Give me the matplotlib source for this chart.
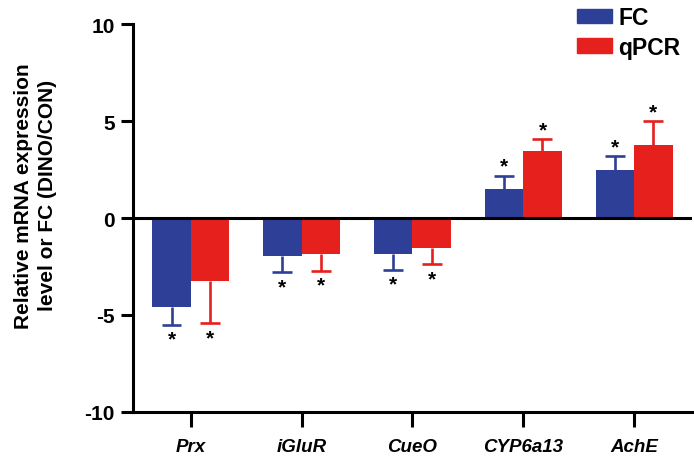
import numpy as np
import matplotlib.pyplot as plt
from matplotlib.patches import Patch

plt.rcParams['font.family'] = ['Liberation Sans', 'DejaVu Sans']
plt.rcParams['font.weight'] = 'bold'
plt.rcParams['axes.unicode_minus'] = False

# dati
geni = ['Prx', 'iGluR', 'CueO', 'CYP6a13', 'AchE']
fc = [-4.6, -1.96, -1.86, 1.49, 2.47]
fc_err = [0.9, 0.84, 0.82, 0.69, 0.71]
qpcr = [-3.23, -1.86, -1.56, 3.45, 3.78]
qpcr_err = [2.2, 0.86, 0.83, 0.62, 1.2]

blu = '#2e3f98'
rosso = '#e5201d'

fig = plt.figure(figsize=(6.94, 4.64), dpi=100)
ax = fig.add_axes([0.1916, 0.11, 0.8054, 0.836])

x = np.arange(len(geni))
w = 0.345
cap = 0.09

for serie, err, col, dx in [(fc, fc_err, blu, -w / 2), (qpcr, qpcr_err, rosso, w / 2)]:
    serie = np.array(serie)
    err = np.array(err)
    xs = x + dx
    ax.bar(xs, serie, width=w, color=col, zorder=2)
    # barra di errore solo verso l'esterno
    fine = serie + np.sign(serie) * err
    ax.vlines(xs, serie, fine, color=col, linewidth=1.9, zorder=1)
    ax.hlines(fine, xs - cap, xs + cap, color=col, linewidth=1.9, zorder=1)
    for xi, v, f in zip(xs, serie, fine):
        if v > 0:
            ax.annotate('*', (xi, f), xytext=(0, 0), textcoords='offset points',
                        ha='center', va='bottom', fontsize=15, fontweight='bold')
        else:
            ax.annotate('*', (xi, f), xytext=(0, -17), textcoords='offset points',
                        ha='center', va='bottom', fontsize=15, fontweight='bold')

ax.axhline(0, color='black', linewidth=2.2, zorder=3)

ax.set_xlim(-0.52, 4.52)
ax.set_ylim(-10, 10)
ax.set_yticks([-10, -5, 0, 5, 10])
ax.set_xticks(x)
ax.set_xticklabels(geni, fontstyle='italic', fontweight='bold', fontsize=13.5)
ax.tick_params(axis='y', labelsize=15, width=2.2, length=9, direction='out', pad=4)
ax.tick_params(axis='x', width=2.2, length=11, direction='out', pad=8)
for lab in ax.get_yticklabels():
    lab.set_fontweight('bold')

for s in ['top', 'right']:
    ax.spines[s].set_visible(False)
for s in ['left', 'bottom']:
    ax.spines[s].set_linewidth(2.2)

ax.set_ylabel('Relative mRNA expression\nlevel or FC (DINO/CON)', fontsize=15,
              fontweight='bold', linespacing=1.3)
ax.yaxis.set_label_coords(-0.136, 0.56)

maniglie = [Patch(color=blu, label='FC'), Patch(color=rosso, label='qPCR')]
leg = fig.legend(handles=maniglie, loc='upper left', bbox_to_anchor=(0.8285, 0.99),
                 frameon=False, fontsize=16.5, handlelength=1.5, handleheight=0.6,
                 handletextpad=0.3, labelspacing=0.3, borderpad=0.1, borderaxespad=0)
for t in leg.get_texts():
    t.set_fontweight('bold')

fig.savefig('out.png', dpi=100)
